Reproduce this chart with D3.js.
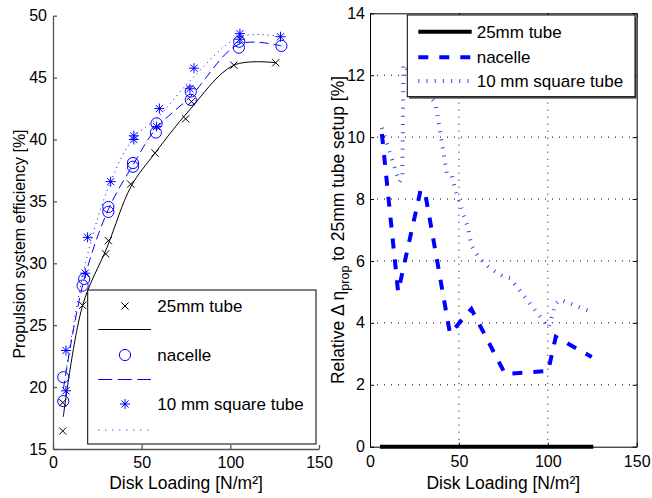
<!DOCTYPE html>
<html>
<head>
<meta charset="utf-8">
<script src="https://cdn.jsdelivr.net/npm/d3@7"></script>
<style>
  body { margin: 0; background: #fff; }
  svg { font-family: "Liberation Sans", Arial, sans-serif; }
</style>
</head>
<body>
<div id="chart"></div>
<script>
// measured points, left panel
const tubeX = [5.5, 5.5, 16.7, 29.7, 31.2, 43.8, 57.5, 74.8, 78.1, 102, 125.6];
const tubeY = [16.45, 18.75, 26.6, 30.76, 31.83, 36.4, 38.9, 41.67, 43.06, 46.0, 46.2];
const nacX = [5.8, 5.8, 16.7, 17.6, 31.2, 31.2, 45.1, 45.1, 58, 58.4, 77.7, 77.7, 104.8, 105, 128.8];
const nacY = [18.87, 20.8, 28.2, 28.74, 34.15, 34.55, 37.8, 38.1, 40.56, 41.3, 43.2, 43.87, 47.42, 47.9, 47.56];
const sqX = [7.3, 7.3, 18.2, 19.5, 32.5, 45.6, 45.6, 58.4, 60, 77.2, 79.5, 105.4, 105.4, 128.3];
const sqY = [19.7, 22.96, 29.2, 32.1, 36.6, 40.0, 40.3, 41.05, 42.5, 44.1, 45.76, 48.1, 48.55, 48.3];

// fitted curves, left panel
const tubeFitX = [5.8, 16.7, 30.5, 44, 57.5, 76.5, 102, 125.6];
const tubeFitY = [17.6, 26.6, 31.3, 36.2, 38.9, 42.3, 46.0, 46.2];
const nacFitX = [5.8, 17.2, 31.2, 45.1, 58.2, 77.7, 104.9, 128.8];
const nacFitY = [19.8, 28.5, 34.35, 37.95, 40.9, 43.5, 47.7, 47.56];
const sqFitX = [7.3, 18.6, 32.5, 45.6, 59.2, 78.3, 105.4, 128.3];
const sqFitY = [21.3, 30.2, 36.6, 40.15, 41.8, 44.9, 48.3, 48.3];

// relative difference, right panel
const relTubeX = [5.6, 125.6];
const relTubeY = [0, 0];
const relNacX = [6.7, 15.8, 28.5, 31, 45, 57, 76, 100.2, 104.5, 124.7];
const relNacY = [10.1, 5.0, 8.3, 8.2, 3.65, 4.45, 2.35, 2.45, 3.55, 2.9];
const relSqX = [6.7, 16.5, 18.2, 18.8, 36.8, 43.3, 46, 48.5, 55, 57, 61, 67.5, 75, 78.7, 100.5, 104.2, 107, 124.7];
const relSqY = [10.3, 8.55, 8.7, 12.35, 11.1, 8.8, 8.75, 8.2, 7.1, 6.5, 6.12, 5.76, 5.5, 5.45, 3.85, 4.6, 4.75, 4.35];

const xTicks = [0, 50, 100, 150];
const yTicksL = [15, 20, 25, 30, 35, 40, 45, 50];
const yTicksR = [0, 2, 4, 6, 8, 10, 12, 14];

const W = 652, H = 498;
const blue = "#0000ff";
const font = "Liberation Sans, Arial, sans-serif";

const svg = d3.select("#chart").append("svg")
  .attr("width", W).attr("height", H);

const zip = (xs, ys) => xs.map((x, i) => [x, ys[i]]);

// axis text styling (d3 sets its own font on the axis group)
const styleAxis = (g, col, sw) => {
  g.attr("font-size", 16).attr("font-family", font);
  g.selectAll(".domain, .tick line").attr("stroke", col).attr("stroke-width", sw);
  g.selectAll("text").attr("fill", "#000");
};

// ---------- left panel ----------
const xL = d3.scaleLinear().domain([0, 150]).range([53, 319]);
const yL = d3.scaleLinear().domain([15, 50]).range([449, 15.7]);

svg.append("g").attr("transform", `translate(0,${yL(15)})`)
  .call(d3.axisBottom(xL).tickValues(xTicks).tickSizeInner(-4).tickSizeOuter(0).tickPadding(8))
  .call(styleAxis, "#555", 1.3);
svg.append("g").attr("transform", `translate(${xL(0)},0)`)
  .call(d3.axisLeft(yL).tickValues(yTicksL).tickSizeInner(-4).tickSizeOuter(0).tickPadding(6))
  .call(styleAxis, "#555", 1.3);

const lineL = d3.line().x(d => xL(d[0])).y(d => yL(d[1])).curve(d3.curveCatmullRom.alpha(0.5));

svg.append("path").datum(zip(tubeFitX, tubeFitY)).attr("d", lineL)
  .attr("fill", "none").attr("stroke", "#000").attr("stroke-width", 1);
svg.append("path").datum(zip(nacFitX, nacFitY)).attr("d", lineL)
  .attr("fill", "none").attr("stroke", blue).attr("stroke-width", 1).attr("stroke-dasharray", "9,5");
svg.append("path").datum(zip(sqFitX, sqFitY)).attr("d", lineL)
  .attr("fill", "none").attr("stroke", blue).attr("stroke-width", 1).attr("stroke-dasharray", "1,4");

const xMark = s => `M${-s},${-s}L${s},${s}M${-s},${s}L${s},${-s}`;
const starMark = s => {
  const d = s * 0.72;
  return `M${-s},0L${s},0M0,${-s}L0,${s}M${-d},${-d}L${d},${d}M${-d},${d}L${d},${-d}`;
};

svg.append("g").selectAll("path").data(zip(tubeX, tubeY)).join("path")
  .attr("transform", d => `translate(${xL(d[0])},${yL(d[1])})`)
  .attr("d", xMark(3.6)).attr("stroke", "#000").attr("stroke-width", 1).attr("fill", "none");
svg.append("g").selectAll("circle").data(zip(nacX, nacY)).join("circle")
  .attr("cx", d => xL(d[0])).attr("cy", d => yL(d[1])).attr("r", 5.6)
  .attr("stroke", blue).attr("stroke-width", 1).attr("fill", "none");
svg.append("g").selectAll("path").data(zip(sqX, sqY)).join("path")
  .attr("transform", d => `translate(${xL(d[0])},${yL(d[1])})`)
  .attr("d", starMark(5)).attr("stroke", blue).attr("stroke-width", 1).attr("fill", "none");

// left legend
const lgL = svg.append("g");
lgL.append("rect").attr("x", 87.7).attr("y", 290).attr("width", 228.3).attr("height", 154)
  .attr("fill", "#fff").attr("stroke", "#000").attr("stroke-width", 1);
const lgRows = [
  { y: 306, type: "x", label: "25mm tube" },
  { y: 329.5, type: "solid" },
  { y: 355, type: "o", label: "nacelle" },
  { y: 379.5, type: "dash" },
  { y: 404, type: "*", label: "10 mm square tube" },
  { y: 430, type: "dot" }
];
lgRows.forEach(r => {
  if (r.type === "x") lgL.append("path").attr("transform", `translate(125,${r.y})`).attr("d", xMark(3.6)).attr("stroke", "#000").attr("fill", "none");
  if (r.type === "o") lgL.append("circle").attr("cx", 125).attr("cy", r.y).attr("r", 5.6).attr("stroke", blue).attr("fill", "none");
  if (r.type === "*") lgL.append("path").attr("transform", `translate(125,${r.y})`).attr("d", starMark(5)).attr("stroke", blue).attr("fill", "none");
  if (r.type === "solid" || r.type === "dash" || r.type === "dot") {
    lgL.append("line").attr("x1", 98.3).attr("x2", 151).attr("y1", r.y).attr("y2", r.y)
      .attr("stroke", r.type === "solid" ? "#000" : blue).attr("stroke-width", 1)
      .attr("stroke-dasharray", r.type === "dash" ? "14,5.5" : r.type === "dot" ? "1,6" : null);
  }
  if (r.label) lgL.append("text").attr("x", 157.3).attr("y", r.y).attr("dy", "0.35em")
    .attr("font-size", 17).text(r.label);
});

svg.append("text").attr("x", 186).attr("y", 489).attr("text-anchor", "middle")
  .attr("font-size", 17.5).text("Disk Loading [N/m²]");
svg.append("text").attr("transform", `translate(25,244) rotate(-90)`).attr("text-anchor", "middle")
  .attr("font-size", 16).text("Propulsion system efficiency [%]");

// ---------- right panel ----------
const xR = d3.scaleLinear().domain([0, 150]).range([370, 636.7]);
const yR = d3.scaleLinear().domain([0, 14]).range([446.7, 13.3]);

// grid
const grid = svg.append("g").attr("stroke", "#000").attr("stroke-width", 1).attr("stroke-dasharray", "1,6");
grid.selectAll("line.v").data([50, 100]).join("line")
  .attr("x1", d => xR(d)).attr("x2", d => xR(d)).attr("y1", yR(0)).attr("y2", yR(14));
grid.selectAll("line.h").data([2, 4, 6, 8, 10, 12]).join("line")
  .attr("y1", d => yR(d)).attr("y2", d => yR(d)).attr("x1", xR(0)).attr("x2", xR(150));

svg.append("g").attr("transform", `translate(0,${yR(0)})`)
  .call(d3.axisBottom(xR).tickValues(xTicks).tickSizeInner(-4).tickSizeOuter(0).tickPadding(9))
  .call(styleAxis, "#000", 1);
svg.append("g").attr("transform", `translate(${xR(0)},0)`)
  .call(d3.axisLeft(yR).tickValues(yTicksR).tickSizeInner(-4).tickSizeOuter(0).tickPadding(5))
  .call(styleAxis, "#000", 1);
svg.append("g").attr("transform", `translate(0,${yR(14)})`)
  .call(d3.axisTop(xR).tickValues(xTicks).tickSizeInner(-4).tickSizeOuter(0).tickFormat(""))
  .call(styleAxis, "#000", 1);
svg.append("g").attr("transform", `translate(${xR(150)},0)`)
  .call(d3.axisRight(yR).tickValues(yTicksR).tickSizeInner(-4).tickSizeOuter(0).tickFormat(""))
  .call(styleAxis, "#000", 1);

const lineR = d3.line().x(d => xR(d[0])).y(d => yR(d[1]));
svg.append("clipPath").attr("id", "clipR").append("rect")
  .attr("x", xR(0)).attr("y", yR(14)).attr("width", xR(150) - xR(0)).attr("height", yR(0) - yR(14) + 3);

const gR = svg.append("g").attr("clip-path", "url(#clipR)");
gR.append("path").datum(zip(relTubeX, relTubeY)).attr("d", lineR)
  .attr("fill", "none").attr("stroke", "#000").attr("stroke-width", 4);
gR.append("path").datum(zip(relNacX, relNacY)).attr("d", lineR)
  .attr("fill", "none").attr("stroke", blue).attr("stroke-width", 4).attr("stroke-dasharray", "10,11");
gR.append("path").datum(zip(relSqX, relSqY)).attr("d", lineR)
  .attr("fill", "none").attr("stroke", blue).attr("stroke-width", 4).attr("stroke-dasharray", "1,7.2").attr("stroke-opacity", 0.75);

// right legend
const lgR = svg.append("g");
lgR.append("rect").attr("x", 409).attr("y", 17).attr("width", 227.7).attr("height", 81.7).attr("fill", "#555");
lgR.append("rect").attr("x", 407.3).attr("y", 15).attr("width", 227.7).attr("height", 81.7)
  .attr("fill", "#fff").attr("stroke", "#000").attr("stroke-width", 1);
const lgRRows = [
  { y: 31.7, label: "25mm tube", stroke: "#000", dash: null, op: 1 },
  { y: 57.3, label: "nacelle", stroke: blue, dash: "10,11", op: 1 },
  { y: 81, label: "10 mm square tube", stroke: blue, dash: "1,7.2", op: 0.75 }
];
lgRRows.forEach(r => {
  lgR.append("line").attr("x1", 418.3).attr("x2", 471.7).attr("y1", r.y).attr("y2", r.y)
    .attr("stroke", r.stroke).attr("stroke-width", 4).attr("stroke-dasharray", r.dash).attr("stroke-opacity", r.op);
  lgR.append("text").attr("x", 476.7).attr("y", r.y).attr("dy", "0.35em").attr("font-size", 17).text(r.label);
});

svg.append("text").attr("x", 503.3).attr("y", 489).attr("text-anchor", "middle")
  .attr("font-size", 17.5).text("Disk Loading [N/m²]");
const yLabR = svg.append("text").attr("transform", `translate(344,230) rotate(-90)`)
  .attr("text-anchor", "middle").attr("font-size", 17.5);
yLabR.append("tspan").text("Relative Δ η");
yLabR.append("tspan").attr("font-size", 12.5).attr("dy", 5).text("prop");
yLabR.append("tspan").attr("dy", -5).text(" to 25mm tube setup [%]");
</script>
</body>
</html>
